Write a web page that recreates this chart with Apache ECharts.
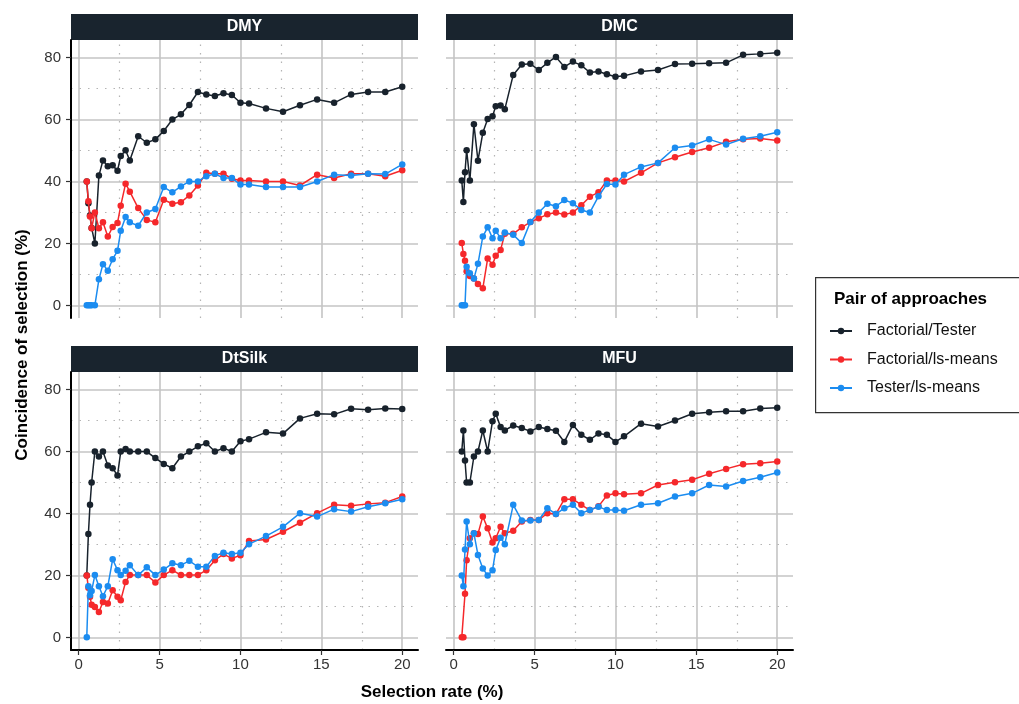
<!DOCTYPE html>
<html><head><meta charset="utf-8">
<script src="https://cdn.jsdelivr.net/npm/echarts@6/dist/echarts.min.js"></script>
<style>html,body{margin:0;padding:0;background:#fff}#c{width:1019px;height:704px}</style>
</head><body><div id="c"></div>
<script>
// ---- data ----
const rates = [0.5, 0.6, 0.7, 0.8, 1.0, 1.25, 1.5, 1.8, 2.1, 2.4, 2.6, 2.9, 3.16, 3.68, 4.21, 4.74, 5.26, 5.79, 6.32, 6.84, 7.37, 7.89, 8.42, 8.95, 9.47, 10.0, 10.53, 11.58, 12.63, 13.68, 14.74, 15.79, 16.84, 17.89, 18.95, 20.0];
const panelNames = ['DMY', 'DMC', 'DtSilk', 'MFU'];
const pairNames = ['Factorial/Tester', 'Factorial/ls-means', 'Tester/ls-means'];
const xTicks = [0, 5, 10, 15, 20];
const yTicks = [0, 20, 40, 60, 80];

const dmyFT = [40, 33, 29, 25, 20, 41.9, 46.8, 44.9, 45.2, 43.5, 48.2, 50.1, 46.8, 54.6, 52.5, 53.6, 56.3, 60.0, 61.7, 64.7, 68.9, 68.1, 67.6, 68.5, 67.9, 65.4, 65.2, 63.6, 62.5, 64.6, 66.5, 65.4, 68.1, 68.9, 68.9, 70.6];
const dmyFL = [40, 33.6, 28.7, 24.9, 30.0, 24.9, 26.8, 22.2, 25.3, 26.6, 32.2, 39.3, 36.7, 31.4, 27.6, 26.8, 34.1, 32.8, 33.3, 35.5, 38.7, 42.8, 42.5, 42.5, 40.9, 40.3, 40.3, 40.0, 40.0, 38.7, 42.2, 41.1, 42.5, 42.5, 41.7, 43.6];
const dmyTL = [0, 0, 0, 0, 0, 8.4, 13.3, 11.2, 14.9, 17.6, 24.1, 28.5, 26.8, 25.7, 30.0, 31.1, 38.2, 36.5, 38.4, 40.0, 40.0, 41.7, 42.5, 41.1, 41.1, 39.0, 39.0, 38.2, 38.2, 38.2, 40.0, 42.2, 41.9, 42.5, 42.4, 45.5];

const dmcFT = [40.3, 33.4, 43.0, 50.1, 40.3, 58.5, 46.7, 55.7, 60.2, 61.1, 64.3, 64.5, 63.3, 74.4, 77.8, 78.0, 76.0, 78.3, 80.2, 77.0, 78.7, 77.5, 75.2, 75.5, 74.6, 73.8, 74.1, 75.5, 76.0, 77.9, 78.0, 78.2, 78.3, 80.9, 81.2, 81.6];
const dmcFL = [20.1, 16.6, 14.4, 11, 9.5, 8.7, 6.9, 5.5, 15.1, 13.1, 16.0, 17.9, 23.1, 23.1, 25.2, 26.9, 28.1, 29.4, 30.0, 29.3, 30.0, 32.3, 35.1, 36.5, 40.3, 40.3, 40.0, 42.8, 46.0, 47.8, 49.5, 50.9, 52.8, 53.6, 53.9, 53.2];
const dmcTL = [0, 0, 0, 12.5, 10.4, 8.7, 13.4, 22.2, 25.2, 21.7, 24.1, 21.7, 23.5, 22.8, 20.1, 26.9, 30.0, 32.8, 32.0, 34.0, 33.0, 30.8, 30.0, 35.2, 39.2, 39.0, 42.2, 44.7, 46.0, 50.9, 51.6, 53.6, 51.9, 53.8, 54.6, 55.9];

const dtsFT = [20.0, 33.4, 42.8, 50.0, 60.0, 58.4, 60.0, 55.5, 54.6, 52.3, 60.0, 60.8, 60.0, 60.0, 60.0, 57.9, 56.0, 54.6, 58.4, 60.0, 61.7, 62.7, 60.0, 61.1, 60.0, 63.3, 64.0, 66.2, 65.8, 70.7, 72.2, 72.0, 73.8, 73.5, 73.9, 73.7];
const dtsFL = [20.0, 16, 13.1, 10.5, 9.8, 8.2, 11.4, 10.9, 15.2, 13.1, 12.0, 17.9, 20.1, 20.1, 20.1, 17.7, 20.1, 21.7, 20.1, 20.1, 20.1, 21.7, 24.9, 26.9, 25.5, 26.5, 31.1, 31.6, 34.1, 37.0, 40.1, 42.8, 42.5, 43.1, 43.5, 45.5];
const dtsTL = [0, 16.5, 13.6, 15, 20.1, 16.5, 13.3, 16.5, 25.2, 21.7, 20.1, 21.5, 23.3, 20.1, 22.6, 20.1, 21.9, 23.9, 23.3, 24.7, 22.8, 22.8, 26.3, 27.3, 26.9, 27.3, 30.1, 32.7, 35.7, 40.1, 39.0, 41.4, 40.6, 42.2, 43.3, 44.6];

const mfuFT = [60.0, 66.8, 57.1, 50.0, 50.0, 58.4, 60.0, 66.8, 60.0, 69.8, 72.2, 67.9, 66.8, 68.4, 67.6, 66.5, 67.9, 67.3, 66.7, 63.1, 68.6, 65.4, 63.8, 65.8, 65.4, 63.1, 64.9, 69.0, 68.1, 70.0, 72.2, 72.7, 73.0, 73.0, 73.9, 74.1];
const mfuFL = [0, 0, 14.1, 24.9, 32, 33.6, 33.4, 39.0, 35.2, 30.6, 32.0, 35.7, 33.6, 34.4, 37.4, 37.9, 37.9, 40.1, 39.8, 44.6, 44.6, 42.8, 41.1, 42.3, 45.8, 46.5, 46.2, 46.5, 49.2, 50.1, 50.9, 52.8, 54.4, 55.9, 56.2, 56.8];
const mfuTL = [20.0, 16.5, 28.4, 37.4, 30.1, 33.6, 26.6, 22.2, 20.0, 21.7, 28.2, 32.2, 30.1, 42.8, 37.7, 37.7, 37.9, 41.7, 39.8, 41.7, 42.8, 40.1, 41.1, 42.2, 41.1, 41.1, 40.9, 42.8, 43.3, 45.5, 46.5, 49.2, 48.7, 50.5, 51.7, 53.2];

const panelData = [[dmyFT, dmyFL, dmyTL], [dmcFT, dmcFL, dmcTL], [dtsFT, dtsFL, dtsTL], [mfuFT, mfuFL, mfuTL]];

// ---- styling / layout ----
const FONT = '"Liberation Sans", Arial, sans-serif';
const colors = ['#18222c', '#f5282b', '#1b8cf0'];
const grids = [
  {left: 71, top: 40, width: 347, height: 278},
  {left: 446, top: 40, width: 347, height: 278},
  {left: 71, top: 372, width: 347, height: 278},
  {left: 446, top: 372, width: 347, height: 278}
];
const stripTops = [14, 14, 346, 346];
const xMin = -0.475, xMax = 20.975, yMin = -4.08, yMax = 85.68;

const majorLS = {color: '#c4c4c4', width: 1.6, type: 'solid'};
const minorLS = {color: '#b4b4b4', width: 1.2, type: [1.5, 7]};

function gridLines() {
  const d = [];
  [0, 5, 10, 15, 20].forEach(v => d.push({xAxis: v, lineStyle: majorLS}));
  [2.5, 7.5, 12.5, 17.5].forEach(v => d.push({xAxis: v, lineStyle: minorLS}));
  [0, 20, 40, 60, 80].forEach(v => d.push({yAxis: v, lineStyle: majorLS}));
  [10, 30, 50, 70].forEach(v => d.push({yAxis: v, lineStyle: minorLS}));
  return d;
}

const xAxes = [], yAxes = [], series = [], graphics = [];
grids.forEach((g, i) => {
  const bottom = i >= 2, leftSide = (i % 2 === 0);
  xAxes.push({
    type: 'value', gridIndex: i, min: xMin, max: xMax,
    splitLine: {show: false},
    axisLine: {show: bottom, onZero: false, lineStyle: {color: '#000', width: 2}},
    axisTick: {show: bottom, customValues: xTicks, length: 5, lineStyle: {color: '#333', width: 1.2}},
    axisLabel: {show: bottom, customValues: xTicks, margin: 7, fontSize: 15, color: '#333', fontFamily: FONT}
  });
  yAxes.push({
    type: 'value', gridIndex: i, min: yMin, max: yMax,
    splitLine: {show: false},
    axisLine: {show: leftSide, onZero: false, lineStyle: {color: '#000', width: 2}},
    axisTick: {show: leftSide, customValues: yTicks, length: 5, lineStyle: {color: '#333', width: 1.2}},
    axisLabel: {show: leftSide, customValues: yTicks, margin: 10, fontSize: 15, color: '#333', fontFamily: FONT}
  });
  series.push({
    type: 'line', xAxisIndex: i, yAxisIndex: i, data: [], z: 0, silent: true,
    markLine: {silent: true, z: 0, symbol: ['none', 'none'], label: {show: false}, animation: false,
      emphasis: {disabled: true}, data: gridLines()}
  });
  panelData[i].forEach((vals, k) => {
    series.push({
      name: pairNames[k], type: 'line', xAxisIndex: i, yAxisIndex: i, z: 2 + k,
      symbol: 'circle', symbolSize: 6.5, showSymbol: true,
      itemStyle: {color: colors[k]}, lineStyle: {color: colors[k], width: 1.5},
      emphasis: {disabled: true},
      data: rates.map((x, j) => [x, vals[j]])
    });
  });
  graphics.push({type: 'rect', left: g.left, top: stripTops[i], shape: {width: g.width, height: 26},
    style: {fill: '#19242e'}});
  graphics.push({type: 'text', x: g.left + g.width / 2, y: stripTops[i] + 13,
    style: {text: panelNames[i], fill: '#fff', font: 'bold 16px ' + FONT, textAlign: 'center', textVerticalAlign: 'middle'}});
});

// axis titles, legend box & title
graphics.push({type: 'text', x: 432, y: 692,
  style: {text: 'Selection rate (%)', fill: '#000', font: 'bold 17px ' + FONT, textAlign: 'center', textVerticalAlign: 'middle'}});
graphics.push({type: 'text', x: 22, y: 345, rotation: Math.PI / 2,
  style: {text: 'Coincidence of selection (%)', fill: '#000', font: 'bold 17px ' + FONT, textAlign: 'center', textVerticalAlign: 'middle'}});
graphics.push({type: 'rect', left: 815, top: 277, shape: {width: 230, height: 135},
  style: {fill: '#fff', stroke: '#333', lineWidth: 1.2}, z: -1});
graphics.push({type: 'text', x: 834, y: 299,
  style: {text: 'Pair of approaches', fill: '#000', font: 'bold 17px ' + FONT, textAlign: 'left', textVerticalAlign: 'middle'}});

const chart = echarts.init(document.getElementById('c'), null, {renderer: 'canvas'});
chart.setOption({
  animation: false,
  backgroundColor: '#fff',
  grid: grids,
  xAxis: xAxes,
  yAxis: yAxes,
  series: series,
  legend: {
    data: pairNames, orient: 'vertical', left: 829, top: 323, padding: 0,
    itemWidth: 22, itemHeight: 8, itemGap: 12.5,
    textStyle: {fontSize: 16, lineHeight: 16, color: '#111', fontFamily: FONT, padding: [0, 0, 0, 10]}
  },
  graphic: graphics
});
</script></body></html>
